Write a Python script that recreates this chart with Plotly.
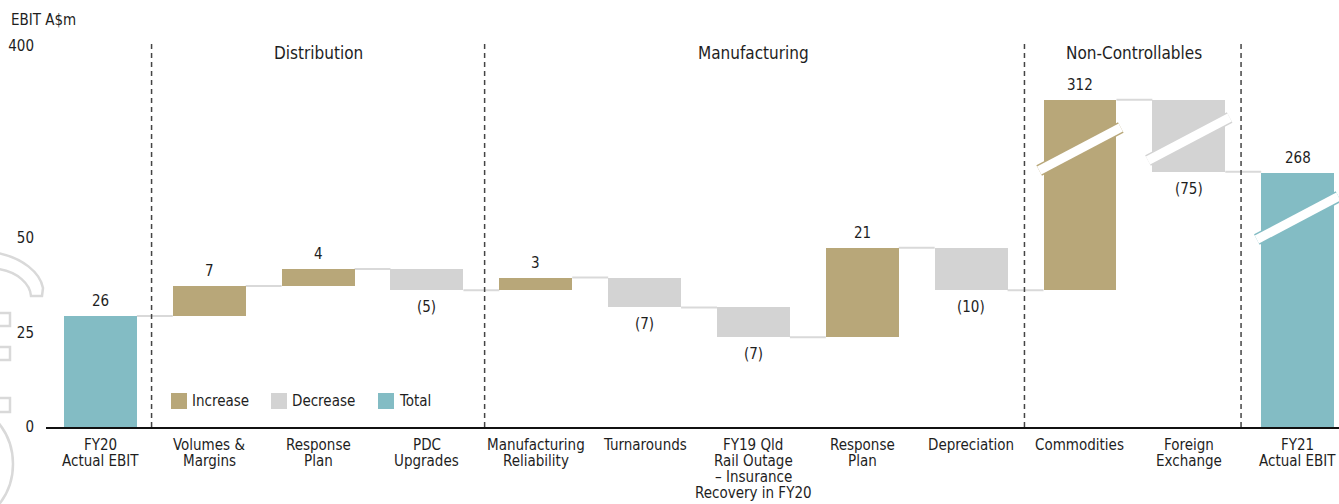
import plotly.graph_objects as go

# ---- data -------------------------------------------------------------
categories = [
    "FY20<br>Actual EBIT", "Volumes &<br>Margins", "Response<br>Plan", "PDC<br>Upgrades",
    "Manufacturing<br>Reliability", "Turnarounds",
    "FY19 Qld<br>Rail Outage<br>– Insurance<br>Recovery in FY20",
    "Response<br>Plan", "Depreciation", "Commodities", "Foreign<br>Exchange",
    "FY21<br>Actual EBIT",
]
values = [26, 7, 4, -5, 3, -7, -7, 21, -10, 312, -75, 268]
kinds = ["total", "delta", "delta", "delta", "delta", "delta", "delta",
         "delta", "delta", "delta", "delta", "total"]
value_labels = ["26", "7", "4", "(5)", "3", "(7)", "(7)", "21", "(10)", "312", "(75)", "268"]

sections = ["Distribution", "Manufacturing", "Non-Controllables"]
y_tick_labels = ["0", "25", "50", "400"]

# ---- styling / layout constants --------------------------------------
W, H = 1339, 504
ML, MR, MT, MB = 46, 0, 30, 77
PW, PH = W - ML - MR, H - MT - MB
FONT = "DejaVu Sans Condensed, Liberation Sans Narrow, sans-serif"
TXT = "#1e1e1e"
C_INC, C_DEC, C_TOT = "#b8a779", "#d3d3d3", "#83bcc4"
CONNECT = "#d9d9d9"
BAR_W = 0.67

# broken value axis: the lower part is stretched, the upper part compressed
LOW_SCALE = 4.27
UP_SCALE, UP_REF_V, UP_REF_Y = 0.96, 400, 381


def to_axis(v):
    if v <= 60:
        return v * LOW_SCALE
    return UP_REF_Y - (UP_REF_V - v) * UP_SCALE


def px_x(p):
    return (p - ML) / PW


def px_y(p):
    return (H - MB - p) / PH


# waterfall geometry
bases, tops, colors = [], [], []
running = 0
for v, k in zip(values, kinds):
    if k == "total":
        lo, hi = 0, v
        running = v
        colors.append(C_TOT)
    else:
        lo, hi = sorted([running, running + v])
        running += v
        colors.append(C_INC if v > 0 else C_DEC)
    bases.append(to_axis(lo))
    tops.append(to_axis(hi))

ends = []
running = 0
for v, k in zip(values, kinds):
    running = v if k == "total" else running + v
    ends.append(running)

xs = list(range(len(values)))
fig = go.Figure()
for name, col in [("Increase", C_INC), ("Decrease", C_DEC), ("Total", C_TOT)]:
    idx = [i for i in xs if colors[i] == col]
    fig.add_trace(go.Bar(
        x=[xs[i] for i in idx],
        y=[tops[i] - bases[i] for i in idx],
        base=[bases[i] for i in idx],
        marker=dict(color=col, line=dict(width=0)),
        width=BAR_W, name=name, showlegend=False, hoverinfo="skip",
    ))

shapes, annotations = [], []

# connectors between consecutive bars
for i in range(len(values) - 1):
    y = to_axis(ends[i])
    shapes.append(dict(type="line", xref="x", yref="y",
                       x0=i + BAR_W / 2, x1=i + 1 - BAR_W / 2, y0=y, y1=y,
                       line=dict(color=CONNECT, width=2), layer="below"))

# value labels
for i, (v, lab) in enumerate(zip(values, value_labels)):
    if v >= 0:
        annotations.append(dict(x=i, y=tops[i] + 4, xref="x", yref="y", text=lab,
                                showarrow=False, yanchor="bottom",
                                font=dict(size=15, color=TXT, family=FONT)))
    else:
        annotations.append(dict(x=i, y=bases[i] - 6, xref="x", yref="y", text=lab,
                                showarrow=False, yanchor="top",
                                font=dict(size=15, color=TXT, family=FONT)))

# category labels, one line at a time for tight line spacing
for i, cat in enumerate(categories):
    for k, line in enumerate(cat.split("<br>")):
        annotations.append(dict(x=i, y=px_y(445 + 16 * k), xref="x", yref="paper",
                                text=line, showarrow=False, yanchor="middle",
                                font=dict(size=15, color=TXT, family=FONT)))

# axis-break bands across the tall bars
breaks = [(9, 278, C_INC), (10, 288, C_DEC), (11, 209, C_TOT)]
for i, yc, col in breaks:
    for w, c in [(12, col), (9, "white")]:
        shapes.append(dict(type="line", xref="x", yref="y",
                           x0=i - 0.375, x1=i + 0.375, y0=yc - 21.5, y1=yc + 21.5,
                           line=dict(color=c, width=w)))

# section dividers and headings
dividers = [0.47, 3.53, 8.49, 10.48]
for d in dividers:
    shapes.append(dict(type="line", xref="x", yref="y", x0=d, x1=d, y0=0, y1=385,
                       line=dict(color="#444444", width=1.5, dash="5px,4px")))
section_x = [2, 6, 9.5]
for s, x in zip(sections, section_x):
    annotations.append(dict(x=x, y=374, xref="x", yref="y", text=s, showarrow=False,
                            font=dict(size=17, color=TXT, family=FONT)))

# legend
legend_items = [("Increase", C_INC, 171), ("Decrease", C_DEC, 271), ("Total", C_TOT, 378)]
for name, col, x in legend_items:
    shapes.append(dict(type="rect", xref="paper", yref="paper",
                       x0=px_x(x), x1=px_x(x + 16), y0=px_y(409), y1=px_y(393),
                       fillcolor=col, line=dict(width=0)))
    annotations.append(dict(x=px_x(x + 19), y=px_y(401), xref="paper", yref="paper",
                            text=name, showarrow=False, xanchor="left", yanchor="middle",
                            font=dict(size=15, color=TXT, family=FONT)))

# unit caption
annotations.append(dict(x=px_x(9), y=px_y(20), xref="paper", yref="paper",
                        text="EBIT A$m", showarrow=False, xanchor="left", yanchor="middle",
                        font=dict(size=15, color=TXT, family=FONT)))

# faint logo outline at the left edge
WM = dict(color="#d9d9d9", width=2.5)


def pth(pts):
    out = []
    for cmd, coords in pts:
        out.append(cmd + " " + " ".join(f"{px_x(a):.5f},{px_y(b):.5f}" for a, b in coords))
    return " ".join(out)


shapes.append(dict(type="path", xref="paper", yref="paper", line=WM,
                   path=pth([("M", [(-2, 253)]),
                             ("C", [(22, 258), (40, 272), (43, 288)]),
                             ("L", [(42, 296)]), ("L", [(31, 296)]),
                             ("C", [(30, 284), (18, 272), (-2, 269)])])))
for y0, y1 in [(313, 326), (347, 360), (398, 412)]:
    shapes.append(dict(type="path", xref="paper", yref="paper", line=WM,
                       path=pth([("M", [(-4, y0)]), ("L", [(10, y0)]), ("L", [(10, y1)]),
                                 ("L", [(-4, y1)])])))
shapes.append(dict(type="circle", xref="paper", yref="paper", line=WM,
                   x0=px_x(-117), x1=px_x(13), y0=px_y(529), y1=px_y(399)))

y_tick_pos = [0, 94, 189, to_axis(400)]

fig.update_layout(
    width=W, height=H,
    margin=dict(l=ML, r=MR, t=MT, b=MB, autoexpand=False),
    paper_bgcolor="white", plot_bgcolor="white",
    barmode="overlay", bargap=0,
    font=dict(family=FONT, color=TXT, size=15),
    shapes=shapes, annotations=annotations,
    xaxis=dict(range=[-0.5, 11.38], tickmode="array", tickvals=xs, showticklabels=False,
               automargin=False,
               showgrid=False, zeroline=False, showline=True, linecolor="#111111",
               linewidth=2, ticks="", fixedrange=True),
    yaxis=dict(range=[0, PH], tickmode="array", tickvals=y_tick_pos, ticktext=y_tick_labels,
               automargin=False,
               showgrid=False, zeroline=False, showline=False, ticks="outside", ticklen=8,
               tickcolor="rgba(0,0,0,0)", tickfont=dict(size=15, family=FONT, color=TXT),
               fixedrange=True),
    showlegend=False,
)

fig.write_html("out.html")
